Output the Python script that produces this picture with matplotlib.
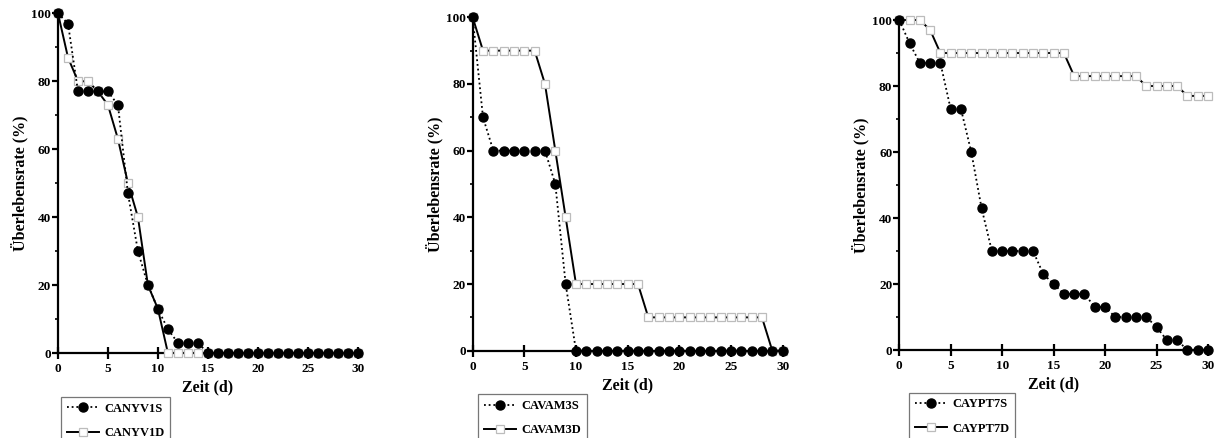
"""Survival curves (Überlebensrate) for three strain pairs, S vs D."""

import matplotlib
matplotlib.use("Agg")
import matplotlib.pyplot as plt
from matplotlib.ticker import MultipleLocator

plt.rcParams["font.family"] = ["Liberation Serif", "DejaVu Serif"]
plt.rcParams["font.weight"] = "bold"

days = list(range(31))

# panel 1
canyv1s = [100, 97, 77, 77, 77, 77, 73, 47, 30, 20, 13, 7, 3, 3, 3] + [0] * 16
canyv1d = [100, 87, 80, 80, 77, 73, 63, 50, 40, 20, 13] + [0] * 20

# panel 2
cavam3s = [100, 70, 60, 60, 60, 60, 60, 60, 50, 20] + [0] * 21
cavam3d = [100] + [90] * 6 + [80, 60, 40] + [20] * 7 + [10] * 12 + [0, 0]

# panel 3
caypt7s = [100, 93, 87, 87, 87, 73, 73, 60, 43, 30, 30, 30, 30, 30, 23, 20,
           17, 17, 17, 13, 13, 10, 10, 10, 10, 7, 3, 3, 0, 0, 0]
caypt7d = [100, 100, 100, 97] + [90] * 13 + [83] * 7 + [80] * 4 + [77] * 3

panels = [
    ("CANYV1S", canyv1s, "CANYV1D", canyv1d),
    ("CAVAM3S", cavam3s, "CAVAM3D", cavam3d),
    ("CAYPT7S", caypt7s, "CAYPT7D", caypt7d),
]

rects = [
    [0.0477, 0.194, 0.2465, 0.7755],
    [0.3887, 0.1993, 0.2549, 0.7612],
    [0.7395, 0.2009, 0.2539, 0.7534],
]
leg_anchor = [(0.0452, 0.108), (0.388, 0.114), (0.7426, 0.118)]

fig = plt.figure(figsize=(12.16, 4.38), dpi=100)

for (s_name, s_vals, d_name, d_vals), rect, anchor in zip(panels, rects, leg_anchor):
    ax = fig.add_axes(rect)
    ax.plot(days, d_vals, color="black", lw=1.4, ls="-", marker="s", ms=5.2,
            mfc="white", mec="#bcbcbc", mew=0.9, clip_on=False, zorder=3,
            label=d_name)
    ax.plot(days, s_vals, color="black", lw=1.3, ls=(0, (1, 1.6)), marker="o",
            ms=6.5, mfc="black", mec="black", clip_on=False, zorder=4,
            label=s_name)

    ax.set_xlim(0, 30)
    ax.set_ylim(0, 100)
    ax.xaxis.set_major_locator(MultipleLocator(5))
    ax.yaxis.set_major_locator(MultipleLocator(20))
    ax.yaxis.set_minor_locator(MultipleLocator(10))
    for side in ("top", "right"):
        ax.spines[side].set_visible(False)
    for side in ("left", "bottom"):
        ax.spines[side].set_linewidth(1.6)
    ax.tick_params(axis="x", which="major", direction="inout", length=9,
                   width=1.6, labelsize=9.5, pad=3)
    ax.tick_params(axis="y", which="major", direction="out", length=4,
                   width=1.6, labelsize=9.5, pad=1)
    ax.tick_params(axis="y", which="minor", direction="out", length=2.5,
                   width=1.2)
    for lab in ax.get_xticklabels() + ax.get_yticklabels():
        lab.set_fontweight("bold")

    ax.set_xlabel("Zeit (d)", fontsize=11.5, fontweight="bold", labelpad=3)
    ax.set_ylabel("Überlebensrate (%)", fontsize=11.5, fontweight="bold",
                  labelpad=2)

    h, l = ax.get_legend_handles_labels()
    leg = fig.legend(h[::-1], l[::-1], loc="upper left", bbox_to_anchor=anchor,
                     bbox_transform=fig.transFigure,
                     prop={"weight": "bold", "size": 9}, frameon=True,
                     fancybox=False, edgecolor="#555555", handlelength=2.6,
                     labelspacing=1.0, borderpad=0.45, handletextpad=0.4)
    leg.get_frame().set_linewidth(0.9)

fig.savefig("out.png", dpi=100)
